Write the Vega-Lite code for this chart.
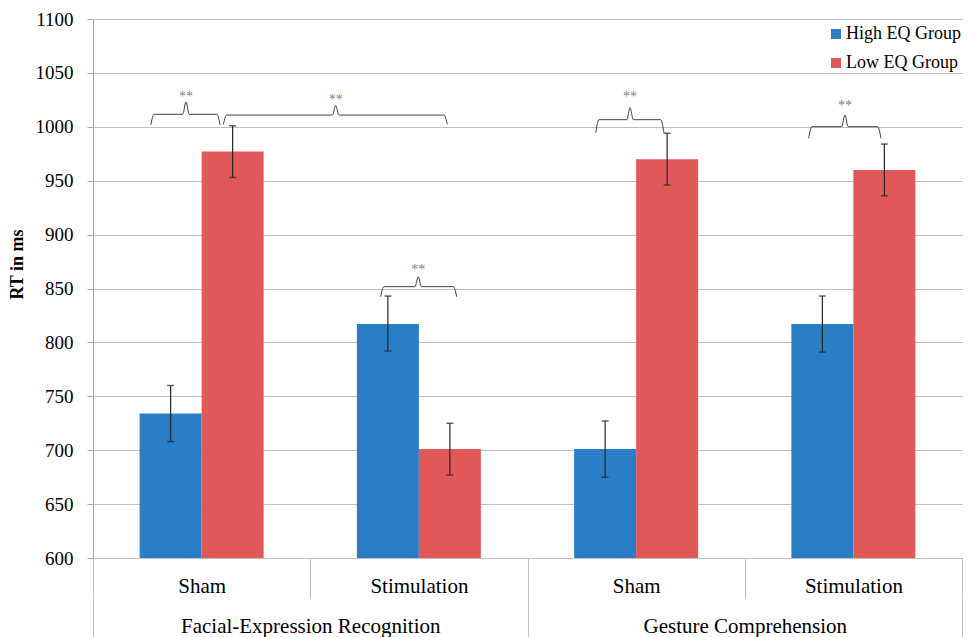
{
  "$schema": "https://vega.github.io/schema/vega-lite/v6.json",
  "width": 869,
  "height": 539,
  "autosize": {"type": "none"},
  "padding": {"left": 93, "top": 19, "right": 6, "bottom": 79},
  "background": "white",
  "config": {
    "font": "Liberation Serif",
    "view": {"stroke": null},
    "axis": {"labelFont": "Liberation Serif", "titleFont": "Liberation Serif", "labelColor": "#000000", "titleColor": "#000000"},
    "legend": {"labelFont": "Liberation Serif"},
    "text": {"font": "Liberation Serif"}
  },
  "datasets": {
    "bars": [
      {"cell": "FER|Sham", "group": "High EQ Group", "rt": 734, "lo": 708, "hi": 760},
      {"cell": "FER|Sham", "group": "Low EQ Group", "rt": 977, "lo": 953, "hi": 1001},
      {"cell": "FER|Stimulation", "group": "High EQ Group", "rt": 817, "lo": 792, "hi": 843},
      {"cell": "FER|Stimulation", "group": "Low EQ Group", "rt": 701, "lo": 677, "hi": 725},
      {"cell": "GC|Sham", "group": "High EQ Group", "rt": 701, "lo": 675, "hi": 727},
      {"cell": "GC|Sham", "group": "Low EQ Group", "rt": 970, "lo": 946, "hi": 994},
      {"cell": "GC|Stimulation", "group": "High EQ Group", "rt": 817, "lo": 791, "hi": 843},
      {"cell": "GC|Stimulation", "group": "Low EQ Group", "rt": 960, "lo": 936, "hi": 984}
    ],
    "braces": [
      {"id": 1, "i": 1, "pos": 0.266, "v": 1001.7},
      {"id": 1, "i": 2, "pos": 0.281, "v": 1011.6},
      {"id": 1, "i": 3, "pos": 0.413, "v": 1011.6},
      {"id": 1, "i": 4, "pos": 0.428, "v": 1023.0},
      {"id": 1, "i": 5, "pos": 0.443, "v": 1011.6},
      {"id": 1, "i": 6, "pos": 0.570, "v": 1011.6},
      {"id": 1, "i": 7, "pos": 0.585, "v": 1001.7},
      {"id": 2, "i": 1, "pos": 0.600, "v": 1002.3},
      {"id": 2, "i": 2, "pos": 0.615, "v": 1010.9},
      {"id": 2, "i": 3, "pos": 1.102, "v": 1010.9},
      {"id": 2, "i": 4, "pos": 1.117, "v": 1019.6},
      {"id": 2, "i": 5, "pos": 1.132, "v": 1010.9},
      {"id": 2, "i": 6, "pos": 1.616, "v": 1010.9},
      {"id": 2, "i": 7, "pos": 1.631, "v": 1002.3},
      {"id": 3, "i": 1, "pos": 1.324, "v": 842.4},
      {"id": 3, "i": 2, "pos": 1.339, "v": 851.7},
      {"id": 3, "i": 3, "pos": 1.482, "v": 851.7},
      {"id": 3, "i": 4, "pos": 1.497, "v": 860.9},
      {"id": 3, "i": 5, "pos": 1.512, "v": 851.7},
      {"id": 3, "i": 6, "pos": 1.659, "v": 851.7},
      {"id": 3, "i": 7, "pos": 1.674, "v": 842.4},
      {"id": 4, "i": 1, "pos": 2.314, "v": 994.5},
      {"id": 4, "i": 2, "pos": 2.329, "v": 1006.6},
      {"id": 4, "i": 3, "pos": 2.457, "v": 1006.6},
      {"id": 4, "i": 4, "pos": 2.472, "v": 1017.7},
      {"id": 4, "i": 5, "pos": 2.487, "v": 1006.6},
      {"id": 4, "i": 6, "pos": 2.613, "v": 1006.6},
      {"id": 4, "i": 7, "pos": 2.628, "v": 994.5},
      {"id": 5, "i": 1, "pos": 3.294, "v": 989.3},
      {"id": 5, "i": 2, "pos": 3.309, "v": 1000.1},
      {"id": 5, "i": 3, "pos": 3.446, "v": 1000.1},
      {"id": 5, "i": 4, "pos": 3.461, "v": 1010.9},
      {"id": 5, "i": 5, "pos": 3.476, "v": 1000.1},
      {"id": 5, "i": 6, "pos": 3.612, "v": 1000.1},
      {"id": 5, "i": 7, "pos": 3.627, "v": 989.3}
    ],
    "stars": [
      {"pos": 0.428, "v": 1027.5, "label": "**"},
      {"pos": 1.117, "v": 1025.0, "label": "**"},
      {"pos": 1.497, "v": 867.5, "label": "**"},
      {"pos": 2.472, "v": 1028.0, "label": "**"},
      {"pos": 3.461, "v": 1019.5, "label": "**"}
    ],
    "tasks": [
      {"task": "Facial-Expression Recognition"},
      {"task": "Gesture Comprehension"}
    ]
  },
  "layer": [
    {
      "data": {"name": "bars"},
      "mark": {"type": "bar", "clip": true},
      "encoding": {
        "x": {
          "field": "cell", "type": "nominal", "sort": null,
          "scale": {"paddingInner": 0, "paddingOuter": 0},
          "axis": {
            "title": null, "orient": "bottom", "labelAngle": 0,
            "labelExpr": "split(datum.label, '|')[1]",
            "labelFontSize": 21, "labelPadding": -23, "labelLimit": 400,
            "tickBand": "extent", "tickSize": 40, "tickColor": "#BFBFBF",
            "domainColor": "#BFBFBF", "grid": false
          }
        },
        "xOffset": {
          "field": "group", "type": "nominal", "sort": ["High EQ Group", "Low EQ Group"],
          "scale": {"paddingInner": 0, "paddingOuter": 0.752}
        },
        "y": {
          "field": "rt", "type": "quantitative",
          "scale": {"domain": [600, 1100], "nice": false, "zero": false},
          "axis": {
            "title": "RT in ms", "titleFontSize": 18, "titleFontWeight": "bold",
            "titleX": -76, "titleY": 245, "titleBaseline": "middle", "titleAlign": "center",
            "values": [600, 650, 700, 750, 800, 850, 900, 950, 1000, 1050, 1100],
            "format": "d",
            "labelFontSize": 19, "labelPadding": 14, "tickSize": 6,
            "tickColor": "#A6A6A6", "domainColor": "#A6A6A6",
            "grid": true, "gridColor": "#BFBFBF"
          }
        },
        "y2": {"datum": 600},
        "color": {
          "field": "group", "type": "nominal",
          "scale": {"domain": ["High EQ Group", "Low EQ Group"], "range": ["#2A7EC6", "#E15858"]},
          "legend": {
            "title": null, "orient": "none", "legendX": 734, "legendY": 6,
            "symbolType": "square", "symbolSize": 100, "symbolStrokeWidth": 0,
            "labelFontSize": 18, "labelOffset": 1, "rowPadding": 11, "labelLimit": 300
          }
        }
      }
    },
    {
      "data": {"name": "bars"},
      "mark": {"type": "rule", "color": "#262626", "strokeWidth": 1.2},
      "encoding": {
        "x": {"field": "cell", "type": "nominal", "sort": null, "scale": {"paddingInner": 0, "paddingOuter": 0}, "axis": null},
        "xOffset": {"field": "group", "type": "nominal", "sort": ["High EQ Group", "Low EQ Group"], "scale": {"paddingInner": 0, "paddingOuter": 0.752}},
        "y": {"field": "lo", "type": "quantitative"},
        "y2": {"field": "hi"}
      }
    },
    {
      "data": {"name": "bars"},
      "mark": {"type": "tick", "color": "#262626", "size": 7, "thickness": 1.5},
      "encoding": {
        "x": {"field": "cell", "type": "nominal", "sort": null, "scale": {"paddingInner": 0, "paddingOuter": 0}, "axis": null},
        "xOffset": {"field": "group", "type": "nominal", "sort": ["High EQ Group", "Low EQ Group"], "scale": {"paddingInner": 0, "paddingOuter": 0.752}},
        "y": {"field": "lo", "type": "quantitative"}
      }
    },
    {
      "data": {"name": "bars"},
      "mark": {"type": "tick", "color": "#262626", "size": 7, "thickness": 1.5},
      "encoding": {
        "x": {"field": "cell", "type": "nominal", "sort": null, "scale": {"paddingInner": 0, "paddingOuter": 0}, "axis": null},
        "xOffset": {"field": "group", "type": "nominal", "sort": ["High EQ Group", "Low EQ Group"], "scale": {"paddingInner": 0, "paddingOuter": 0.752}},
        "y": {"field": "hi", "type": "quantitative"}
      }
    },
    {
      "data": {"name": "braces"},
      "mark": {"type": "line", "color": "#404040", "strokeWidth": 1, "interpolate": "monotone"},
      "encoding": {
        "x": {"field": "pos", "type": "quantitative", "scale": {"domain": [0, 4], "nice": false, "zero": false}, "axis": null},
        "y": {"field": "v", "type": "quantitative"},
        "detail": {"field": "id", "type": "nominal"},
        "order": {"field": "i", "type": "quantitative"}
      }
    },
    {
      "data": {"name": "stars"},
      "mark": {"type": "text", "color": "#808080", "fontSize": 14, "baseline": "middle", "align": "center"},
      "encoding": {
        "x": {"field": "pos", "type": "quantitative", "scale": {"domain": [0, 4], "nice": false, "zero": false}, "axis": null},
        "y": {"field": "v", "type": "quantitative"},
        "text": {"field": "label", "type": "nominal"}
      }
    },
    {
      "data": {"name": "tasks"},
      "mark": {"type": "point", "opacity": 0},
      "encoding": {
        "x": {
          "field": "task", "type": "nominal", "sort": null,
          "scale": {"paddingInner": 0, "paddingOuter": 0},
          "axis": {
            "title": null, "orient": "bottom", "offset": 40, "labelAngle": 0,
            "labelFontSize": 21, "labelPadding": -23, "labelLimit": 500,
            "domain": false, "tickBand": "extent", "tickSize": 40, "tickColor": "#BFBFBF", "grid": false
          }
        }
      }
    }
  ],
  "resolve": {"scale": {"x": "independent"}, "axis": {"x": "independent"}}
}
